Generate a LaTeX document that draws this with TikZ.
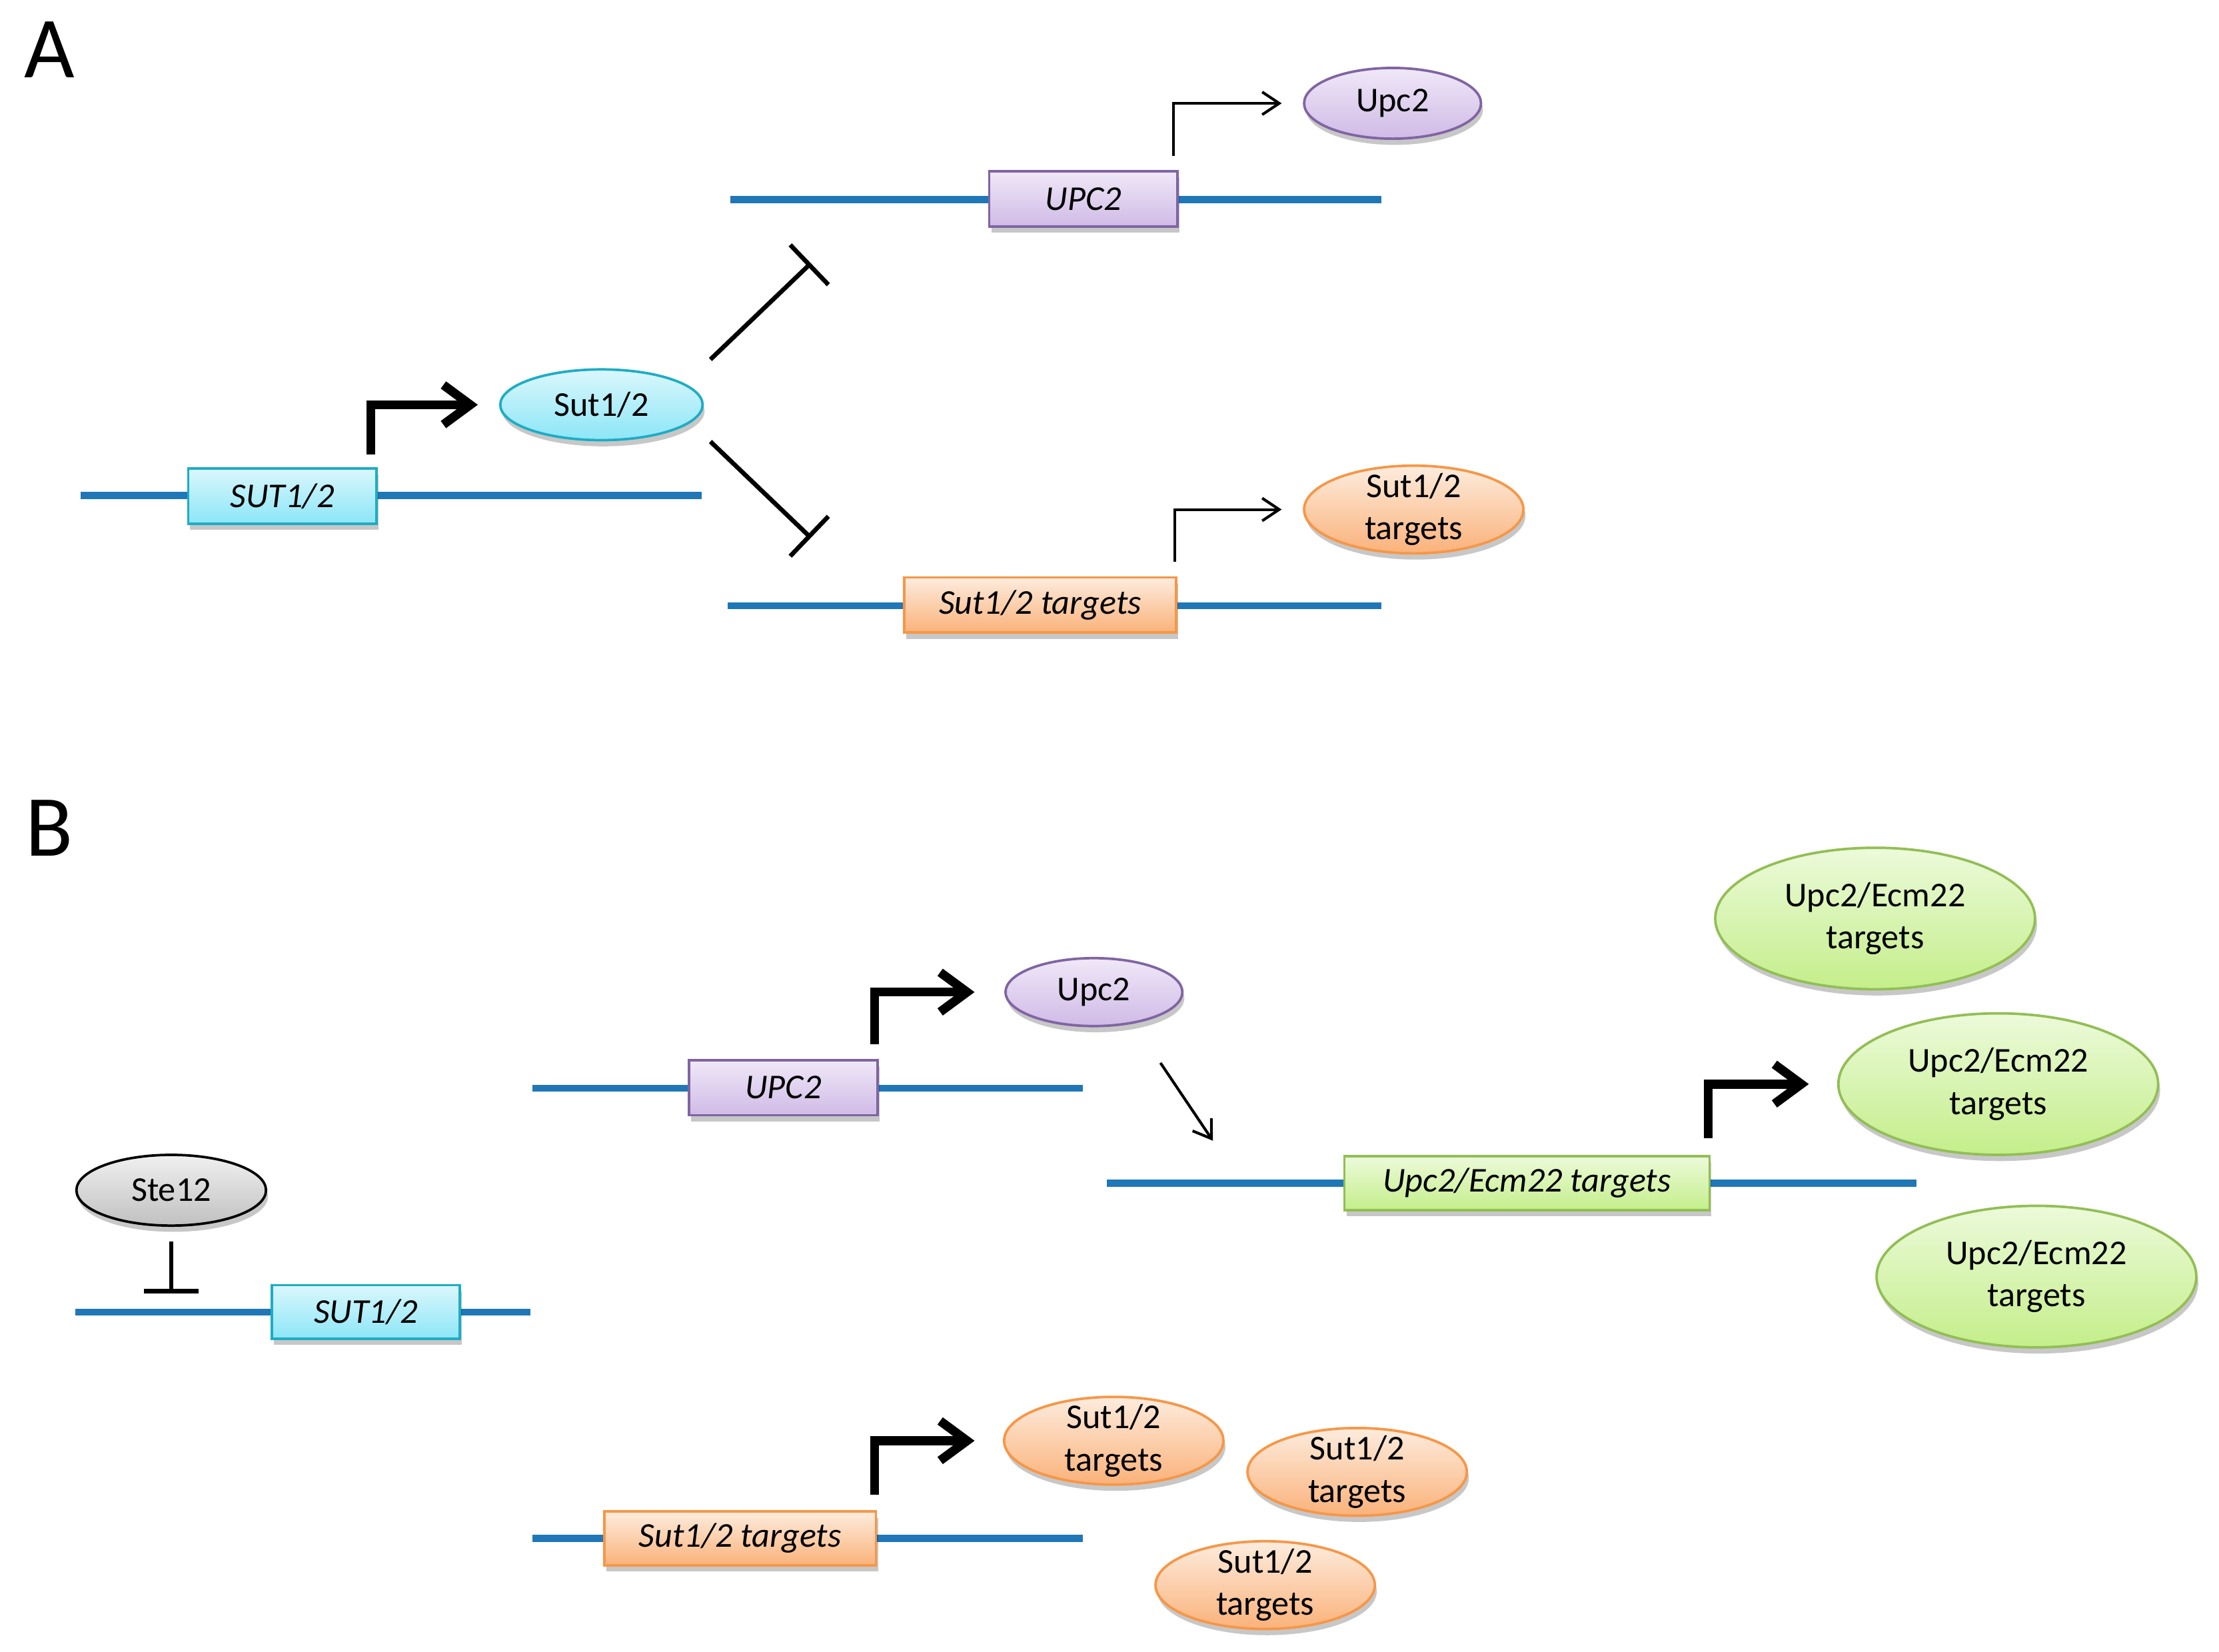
\documentclass[tikz,border=0pt]{standalone}
\usepackage{fontspec}
\setmainfont{Carlito}
\usetikzlibrary{arrows.meta,shapes.geometric,shadows}
\definecolor{dna}{RGB}{31,119,184}
\definecolor{cyT}{RGB}{218,247,252}
\definecolor{cyB}{RGB}{140,230,247}
\definecolor{cyD}{RGB}{30,172,196}
\definecolor{puT}{RGB}{240,232,248}
\definecolor{puB}{RGB}{208,186,230}
\definecolor{puD}{RGB}{128,100,162}
\definecolor{orT}{RGB}{253,236,222}
\definecolor{orB}{RGB}{250,178,122}
\definecolor{orD}{RGB}{247,150,70}
\definecolor{grT}{RGB}{236,250,218}
\definecolor{grB}{RGB}{196,238,138}
\definecolor{grD}{RGB}{146,190,84}
\definecolor{gyT}{RGB}{240,240,240}
\definecolor{gyB}{RGB}{192,192,192}
\tikzset{
  dnaline/.style={draw=dna, line width=2.8pt},
  shad/.style={drop shadow={shadow xshift=0.8pt, shadow yshift=-2.5pt, opacity=0.22, fill=black}},
  genebox/.style={rectangle, line width=1pt, inner sep=0pt, shad,
    font=\fontsize{14}{17}\selectfont\itshape},
  prot/.style={ellipse, line width=1pt, inner sep=0pt, shad,
    font=\fontsize{14}{17}\selectfont, align=center},
  lbl/.style={font=\fontsize{14}{17}\selectfont, align=center, inner sep=0pt},
  cyanc/.style={top color=cyT, bottom color=cyB, draw=cyD},
  purpc/.style={top color=puT, bottom color=puB, draw=puD},
  orac/.style={top color=orT, bottom color=orB, draw=orD},
  grnc/.style={top color=grT, bottom color=grB, draw=grD},
  grayc/.style={top color=gyT, bottom color=gyB, draw=black},
  thickarr/.style={line width=3.6pt, -{Straight Barb[length=0.38cm,width=0.56cm]}},
  thinarr/.style={line width=1.1pt, -{Straight Barb[length=0.24cm,width=0.32cm]}},
  inhib/.style={line width=1.8pt, -{Bar[width=0.78cm]}},
  panel/.style={font=\fontsize{35}{40}\selectfont, inner sep=0pt}
}
\begin{document}
\begin{tikzpicture}[x=0.02cm, y=-0.02cm]
\useasboundingbox (0,0) rectangle (1568,1167);

% ---------------- Panel A ----------------
\node[panel] (labA) at (35,35) {A};

% SUT1/2 gene
\coordinate (aL1) at (57,350);
\coordinate (aR1) at (496,350);
\draw[dnaline] (aL1) -- (aR1);
\node[genebox, cyanc, minimum width=2.66cm, minimum height=0.78cm] (aSUT) at (199.5,350.5) {SUT1/2};
\node[prot, cyanc, minimum width=2.86cm, minimum height=1.0cm] (aSutP) at (425,286) {Sut1/2};
\coordinate (aP1) at (262,321);
\draw[thickarr, shorten >=0.3cm] (aP1) |- (aSutP.west);

% UPC2 gene
\coordinate (aL2) at (516,141);
\coordinate (aR2) at (976,141);
\draw[dnaline] (aL2) -- (aR2);
\node[genebox, purpc, minimum width=2.66cm, minimum height=0.78cm] (aUPC) at (765.5,140.5) {UPC2};
\node[prot, purpc, minimum width=2.5cm, minimum height=1.0cm] (aUpcP) at (984,73) {Upc2};
\coordinate (aP2) at (829,110);
\draw[thinarr, shorten >=0.3cm] (aP2) |- (aUpcP.west);

% Sut1/2 targets gene
\coordinate (aL3) at (514,428);
\coordinate (aR3) at (976,428);
\draw[dnaline] (aL3) -- (aR3);
\node[genebox, orac, minimum width=3.84cm, minimum height=0.78cm] (aTGT) at (735,427.5) {Sut1/2 targets};
\node[prot, orac, minimum width=3.1cm, minimum height=1.24cm,
  label={[lbl]center:{Sut1/2\\targets}}] (aTgtP) at (999,360) {};
\coordinate (aP3) at (830,397);
\draw[thinarr, shorten >=0.3cm] (aP3) |- (aTgtP.west);

% inhibitions
\coordinate (aI1s) at (502,254);
\coordinate (aI1e) at (573,186);
\draw[inhib] (aI1s) -- (aI1e);
\coordinate (aI2s) at (502,312);
\coordinate (aI2e) at (573,380);
\draw[inhib] (aI2s) -- (aI2e);

% ---------------- Panel B ----------------
\node[panel] (labB) at (35,585) {B};

% UPC2 gene
\coordinate (bL1) at (376,769);
\coordinate (bR1) at (765,769);
\draw[dnaline] (bL1) -- (bR1);
\node[genebox, purpc, minimum width=2.66cm, minimum height=0.78cm] (bUPC) at (553.5,768.5) {UPC2};
\node[prot, purpc, minimum width=2.5cm, minimum height=0.96cm] (bUpcP) at (773,701) {Upc2};
\coordinate (bP1) at (618,738);
\draw[thickarr, shorten >=0.42cm] (bP1) |- (bUpcP.west);

% Upc2 -> targets line
\coordinate (bD1) at (820,751);
\coordinate (bD2) at (857,806);
\draw[thinarr] (bD1) -- (bD2);

% Upc2/Ecm22 targets gene
\coordinate (bL2) at (782,836);
\coordinate (bR2) at (1354,836);
\draw[dnaline] (bL2) -- (bR2);
\node[genebox, grnc, minimum width=5.16cm, minimum height=0.76cm] (bECM) at (1079,836) {Upc2/Ecm22 targets};
\node[prot, grnc, minimum width=4.52cm, minimum height=2.0cm,
  label={[lbl]center:{Upc2/Ecm22\\targets}}] (bG1) at (1325,649) {};
\node[prot, grnc, minimum width=4.52cm, minimum height=2.0cm,
  label={[lbl]center:{Upc2/Ecm22\\targets}}] (bG2) at (1412,766) {};
\node[prot, grnc, minimum width=4.52cm, minimum height=2.0cm,
  label={[lbl]center:{Upc2/Ecm22\\targets}}] (bG3) at (1439,902) {};
\coordinate (bP2) at (1207,804);
\draw[thickarr, shorten >=0.4cm] (bP2) |- (bG2.west);

% Ste12 and SUT1/2
\node[prot, grayc, minimum width=2.68cm, minimum height=1.0cm] (bSte) at (121,841) {Ste12};
\coordinate (bI1s) at (121,877);
\coordinate (bI1e) at (121,914);
\draw[inhib] (bI1s) -- (bI1e);
\coordinate (bL3) at (53,927);
\coordinate (bR3) at (375,927);
\draw[dnaline] (bL3) -- (bR3);
\node[genebox, cyanc, minimum width=2.66cm, minimum height=0.76cm] (bSUT) at (258.5,927) {SUT1/2};

% Sut1/2 targets gene
\coordinate (bL4) at (376,1087);
\coordinate (bR4) at (765,1087);
\draw[dnaline] (bL4) -- (bR4);
\node[genebox, orac, minimum width=3.84cm, minimum height=0.76cm] (bTGT) at (523,1087) {Sut1/2 targets};
\node[prot, orac, minimum width=3.1cm, minimum height=1.24cm,
  label={[lbl]center:{Sut1/2\\targets}}] (bO1) at (787,1018) {};
\node[prot, orac, minimum width=3.1cm, minimum height=1.24cm,
  label={[lbl]center:{Sut1/2\\targets}}] (bO2) at (959,1040) {};
\node[prot, orac, minimum width=3.1cm, minimum height=1.24cm,
  label={[lbl]center:{Sut1/2\\targets}}] (bO3) at (894,1120) {};
\coordinate (bP3) at (618,1056);
\draw[thickarr, shorten >=0.4cm] (bP3) |- (bO1.west);
\end{tikzpicture}
\end{document}
